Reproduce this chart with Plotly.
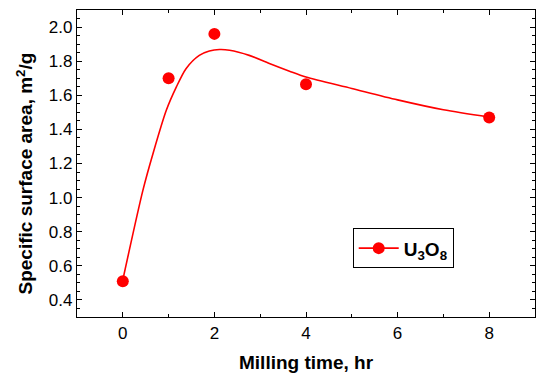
import plotly.graph_objects as go

# Measured data
milling_time = [0, 1, 2, 4, 8]
surface_area = [0.51, 1.70, 1.96, 1.665, 1.47]

# Smooth fitted curve
fit_x = [0, 0.44, 0.66, 0.95, 1.17, 1.38, 1.67, 1.89, 2.11, 2.33, 2.76, 3.2, 3.64, 4.0, 5.0, 6.0, 7.0, 8.0]
fit_y = [0.517, 1.044, 1.259, 1.512, 1.649, 1.756, 1.834, 1.859, 1.868, 1.864, 1.834, 1.786, 1.741, 1.707, 1.640, 1.573, 1.515, 1.472]

x_ticks = [0, 2, 4, 6, 8]
y_ticks = [0.4, 0.6, 0.8, 1.0, 1.2, 1.4, 1.6, 1.8, 2.0]

RED = "#ff0000"
FONT = "Liberation Sans, Arial, sans-serif"

fig = go.Figure()
fig.add_trace(go.Scatter(x=fit_x, y=fit_y, mode="lines",
                         line=dict(color=RED, width=1.6, shape="spline", smoothing=0.8),
                         showlegend=False, hoverinfo="skip"))
fig.add_trace(go.Scatter(x=milling_time, y=surface_area, mode="markers",
                         marker=dict(color=RED, size=12), showlegend=False))
fig.add_trace(go.Scatter(x=[None], y=[None], mode="lines+markers", name="<b>U<sub>3</sub>O<sub>8</sub></b>",
                         line=dict(color=RED, width=1.6), marker=dict(color=RED, size=12)))

axis_common = dict(showline=True, linecolor="black", linewidth=1.2, mirror="allticks",
                   ticks="inside", tickcolor="black", ticklen=5, tickwidth=1,
                   showgrid=False, zeroline=False, automargin=False,
                   tickfont=dict(family=FONT, size=17, color="black"))

fig.update_xaxes(range=[-1, 9], tickvals=x_ticks,
                 minor=dict(dtick=1, ticks="inside", ticklen=3, tickcolor="black", tick0=0),
                 **axis_common)
fig.update_yaxes(range=[0.3, 2.1], tickvals=y_ticks, tickformat=".1f",
                 minor=dict(dtick=0.05, ticks="inside", ticklen=3, tickcolor="black", tick0=0),
                 **axis_common)

fig.add_annotation(text="<b>Milling time, hr</b>", xref="paper", yref="paper", x=0.5, y=0,
                   xanchor="center", yanchor="middle", yshift=-45, showarrow=False,
                   font=dict(family=FONT, size=19, color="black"))
fig.add_annotation(text="<b>Specific surface area, m<sup>2</sup>/g</b>", xref="paper", yref="paper",
                   x=0, y=0.4675, xanchor="center", yanchor="middle", xshift=-52, textangle=-90,
                   showarrow=False, font=dict(family=FONT, size=19, color="black"))

fig.update_layout(
    width=538, height=376,
    margin=dict(l=77, r=3, t=10, b=59),
    plot_bgcolor="white", paper_bgcolor="white",
    legend=dict(x=0.602, y=0.289, xanchor="left", yanchor="top",
                bordercolor="black", borderwidth=1, bgcolor="white",
                font=dict(family=FONT, size=19, color="black"), itemwidth=40),
)

fig.write_html("out.html", config={"responsive": False, "displayModeBar": False},
               post_script="document.body.style.margin='0';document.body.style.overflow='hidden';")
